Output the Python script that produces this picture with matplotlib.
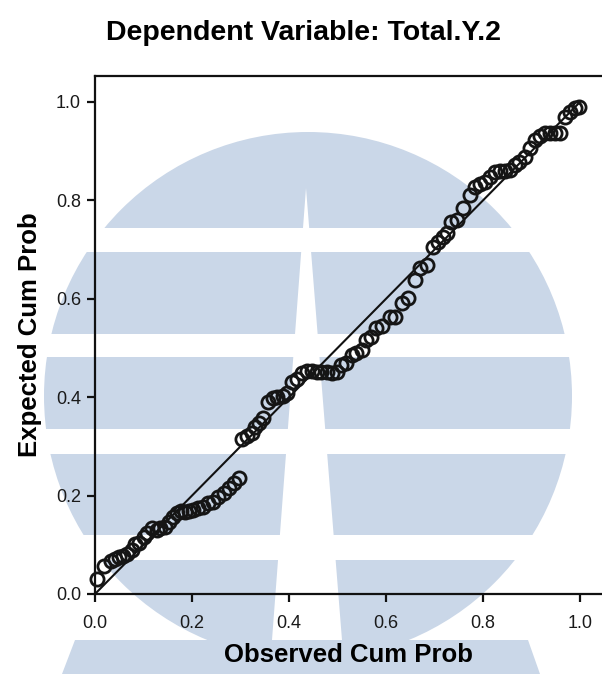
import matplotlib
matplotlib.use("Agg")
import matplotlib.pyplot as plt
from matplotlib.patches import Circle, Rectangle, Polygon

plt.rcParams['font.family'] = ['Liberation Sans', 'DejaVu Sans']

# ---- data ----
observed = [0.005, 0.019, 0.032, 0.041, 0.050, 0.058, 0.067, 0.076, 0.082, 0.091,
            0.101, 0.108, 0.117, 0.127, 0.135, 0.144, 0.153, 0.161, 0.170, 0.178,
            0.186, 0.194, 0.203, 0.213, 0.223, 0.234, 0.244, 0.254, 0.265, 0.277,
            0.287, 0.296, 0.304, 0.313, 0.323, 0.330, 0.339, 0.346, 0.357, 0.366,
            0.376, 0.387, 0.395, 0.406, 0.416, 0.426, 0.437, 0.447, 0.457, 0.467,
            0.478, 0.488, 0.498, 0.508, 0.517, 0.529, 0.539, 0.550, 0.559, 0.570,
            0.579, 0.591, 0.608, 0.619, 0.632, 0.646, 0.660, 0.670, 0.684, 0.696,
            0.708, 0.718, 0.725, 0.735, 0.746, 0.758, 0.773, 0.784, 0.794, 0.804,
            0.814, 0.825, 0.835, 0.845, 0.856, 0.866, 0.875, 0.887, 0.897, 0.907,
            0.918, 0.928, 0.938, 0.948, 0.959, 0.969, 0.979, 0.990, 0.997]
expected = [0.030, 0.057, 0.068, 0.071, 0.075, 0.077, 0.081, 0.089, 0.102, 0.104,
            0.115, 0.125, 0.134, 0.130, 0.134, 0.137, 0.147, 0.156, 0.164, 0.168,
            0.167, 0.169, 0.171, 0.174, 0.177, 0.184, 0.188, 0.198, 0.205, 0.215,
            0.225, 0.235, 0.316, 0.321, 0.328, 0.340, 0.347, 0.357, 0.391, 0.398,
            0.400, 0.402, 0.408, 0.430, 0.436, 0.449, 0.454, 0.454, 0.452, 0.452,
            0.452, 0.450, 0.452, 0.465, 0.469, 0.486, 0.489, 0.496, 0.516, 0.523,
            0.540, 0.545, 0.564, 0.564, 0.591, 0.601, 0.638, 0.662, 0.669, 0.706,
            0.716, 0.726, 0.733, 0.757, 0.760, 0.784, 0.811, 0.828, 0.833, 0.838,
            0.848, 0.858, 0.860, 0.860, 0.862, 0.872, 0.879, 0.888, 0.906, 0.923,
            0.931, 0.936, 0.938, 0.938, 0.938, 0.970, 0.980, 0.987, 0.990]
diagonal = [0.0, 1.0]
tick_values = [0.0, 0.2, 0.4, 0.6, 0.8, 1.0]
tick_labels = ["0.0", "0.2", "0.4", "0.6", "0.8", "1.0"]
title = "Dependent Variable: Total.Y.2"
x_label = "Observed Cum Prob"
y_label = "Expected Cum Prob"

W, H = 602, 674
fig = plt.figure(figsize=(W / 100, H / 100), dpi=100)

# ---- watermark background (pixel coordinates) ----
bg = fig.add_axes([0, 0, 1, 1], zorder=0)
bg.set_xlim(0, W)
bg.set_ylim(H, 0)
bg.axis('off')
wm = '#CAD7E8'
bg.add_patch(Circle((308, 396), 264, color=wm, lw=0))
bg.add_patch(Polygon([(75, 640), (528, 640), (540, 674), (62, 674)], closed=True, color=wm, lw=0))
for y0, y1 in [(228, 252), (334, 357), (429, 454), (535, 560)]:
    bg.add_patch(Rectangle((0, y0), W, y1 - y0, color='white', lw=0))
bg.add_patch(Polygon([(306, 188), (272, 640), (342, 640)], closed=True, color='white', lw=0))

# ---- main axes ----
left = 95 / W
bottom = (H - 594) / H
ax = fig.add_axes([left, bottom, (W - 95) / W, (594 - 76) / H], zorder=1)
ax.patch.set_alpha(0)
ax.set_xlim(0, 507 / 485)
ax.set_ylim(0, 518 / 492)

ax.plot(diagonal, diagonal, color='#111111', lw=1.5, zorder=2)
ax.plot(observed, expected, linestyle='none', marker='o', markersize=9.5,
        markerfacecolor='none', markeredgecolor='#151515', markeredgewidth=2.0,
        clip_on=False, zorder=3)

ax.set_xticks(tick_values)
ax.set_xticklabels(tick_labels)
ax.set_yticks(tick_values)
ax.set_yticklabels(tick_labels)
ax.tick_params(axis='both', direction='out', length=6, width=1.6, colors='#111111',
               labelsize=13, labelcolor='#1a1a1a')
ax.tick_params(axis='x', pad=9)
ax.tick_params(axis='y', pad=4)
for s in ['left', 'top', 'bottom']:
    ax.spines[s].set_linewidth(1.6)
    ax.spines[s].set_color('#111111')
ax.spines['right'].set_visible(False)

ax.set_xlabel(x_label, fontsize=18.5, fontweight='bold', labelpad=8)
ax.set_ylabel(y_label, fontsize=18.5, fontweight='bold', labelpad=10)

fig.text(303 / W, 1 - 33 / H, title, ha='center', va='center',
         fontsize=20.5, fontweight='bold')

fig.savefig('out.png', dpi=100)
